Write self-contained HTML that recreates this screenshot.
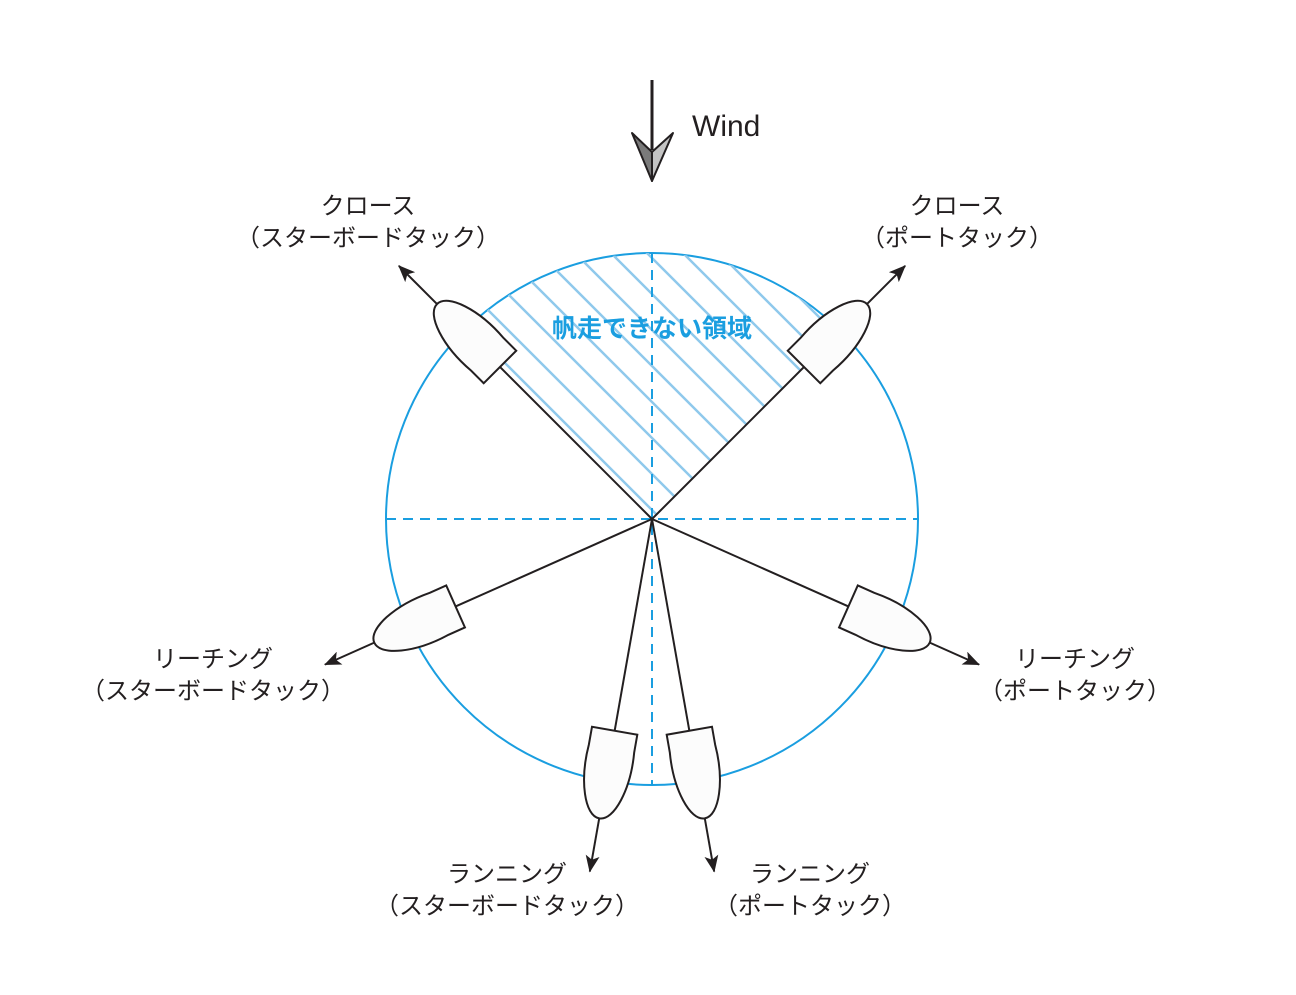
<!DOCTYPE html>
<html><head><meta charset="utf-8"><style>
body{margin:0;background:#fff;}
svg text{font-family:"Liberation Sans","Noto Sans CJK JP",sans-serif;}
</style></head><body>
<svg width="1296" height="990" viewBox="0 0 1296 990" xmlns="http://www.w3.org/2000/svg">
<defs>
<clipPath id="sec"><path d="M652,519 L463.9,330.9 A266,266 0 0 1 840.1,330.9 Z"/></clipPath>
<g id="boat">
<path d="M0,-23 L18,-23 C55,-26 89,-15 89,0 C89,15 55,26 18,23 L0,23 Z" fill="#fcfcfc" stroke="#231f20" stroke-width="2"/>
</g>
<marker id="ah" markerWidth="17" markerHeight="14" refX="16" refY="7" orient="auto" markerUnits="userSpaceOnUse" viewBox="0 0 17 14"><path d="M0,0 L17,7 L0,14 L4,7 Z" fill="#231f20"/></marker>
</defs>
<circle cx="652" cy="519" r="266" fill="none" stroke="#1a9ee0" stroke-width="2"/>
<g clip-path="url(#sec)" stroke="#8fc9ec" stroke-width="2.5">
<path d="M292,150 L892,750 M328,150 L928,750 M364,150 L964,750 M400,150 L1000,750 M436,150 L1036,750 M472,150 L1072,750 M508,150 L1108,750 M544,150 L1144,750 M580,150 L1180,750 M616,150 L1216,750 M652,150 L1252,750 M688,150 L1288,750 M256,150 L856,750 M220,150 L820,750 M184,150 L784,750"/>
</g>
<g stroke="#1a9ee0" stroke-width="2" stroke-dasharray="10,7" fill="none">
<line x1="652" y1="253" x2="652" y2="785"/>
<line x1="386" y1="519" x2="919" y2="519"/>
</g>
<text x="652" y="337" text-anchor="middle" font-size="25" font-weight="bold" fill="#1a9ee0">帆走できない領域</text>
<g stroke="#231f20" stroke-width="2" fill="none">
<g transform="translate(652,519) rotate(-135)"><line x1="0" y1="0" x2="215" y2="0"/><line x1="304" y1="0" x2="358" y2="0" marker-end="url(#ah)"/><use href="#boat" x="215"/></g>
<g transform="translate(652,519) rotate(-45)"><line x1="0" y1="0" x2="215" y2="0"/><line x1="304" y1="0" x2="358" y2="0" marker-end="url(#ah)"/><use href="#boat" x="215"/></g>
<g transform="translate(652,519) rotate(156)"><line x1="0" y1="0" x2="215" y2="0"/><line x1="304" y1="0" x2="358" y2="0" marker-end="url(#ah)"/><use href="#boat" x="215"/></g>
<g transform="translate(652,519) rotate(24)"><line x1="0" y1="0" x2="215" y2="0"/><line x1="304" y1="0" x2="358" y2="0" marker-end="url(#ah)"/><use href="#boat" x="215"/></g>
<g transform="translate(652,519) rotate(100)"><line x1="0" y1="0" x2="215" y2="0"/><line x1="304" y1="0" x2="358" y2="0" marker-end="url(#ah)"/><use href="#boat" x="215"/></g>
<g transform="translate(652,519) rotate(80)"><line x1="0" y1="0" x2="215" y2="0"/><line x1="304" y1="0" x2="358" y2="0" marker-end="url(#ah)"/><use href="#boat" x="215"/></g>
</g>
<line x1="652" y1="80" x2="652" y2="150" stroke="#231f20" stroke-width="3"/>
<path d="M632,133 L652,152 L652,181 Z" fill="#7a7a7a" stroke="#231f20" stroke-width="2" stroke-linejoin="round"/>
<path d="M673,133 L652,152 L652,181 Z" fill="#c4c4c4" stroke="#231f20" stroke-width="2" stroke-linejoin="round"/>
<text x="692" y="136" font-size="30" fill="#231f20">Wind</text>
<g font-size="24" fill="#231f20" text-anchor="middle">
<text x="368" y="214">クロース</text><text x="368" y="246">（スターボードタック）</text>
<text x="957" y="214">クロース</text><text x="957" y="246">（ポートタック）</text>
<text x="213" y="667">リーチング</text><text x="213" y="699">（スターボードタック）</text>
<text x="1075" y="667">リーチング</text><text x="1075" y="699">（ポートタック）</text>
<text x="507" y="882">ランニング</text><text x="507" y="914">（スターボードタック）</text>
<text x="810" y="882">ランニング</text><text x="810" y="914">（ポートタック）</text>
</g>
</svg>
</body></html>
